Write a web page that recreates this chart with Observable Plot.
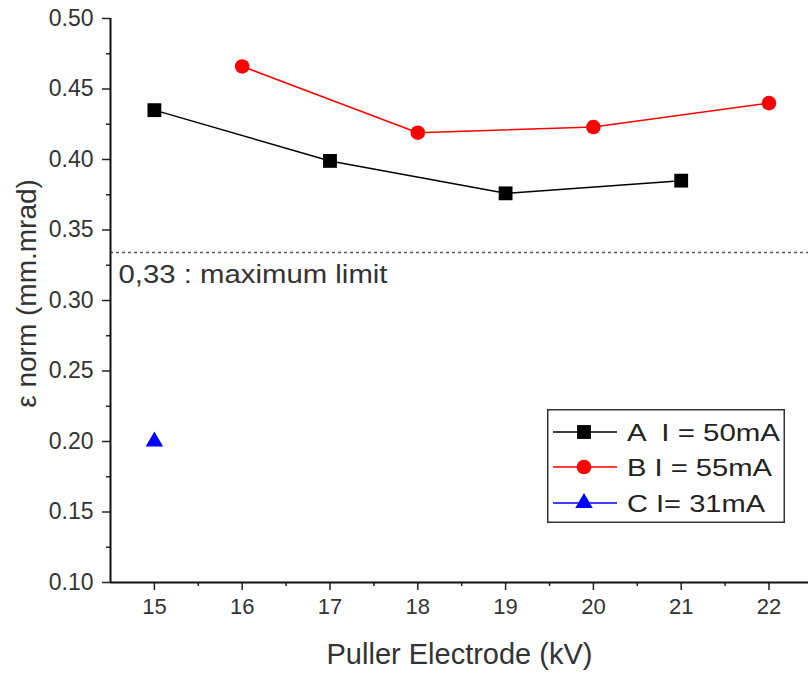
<!DOCTYPE html>
<html><head><meta charset="utf-8">
<script src="https://cdn.jsdelivr.net/npm/d3@7"></script>
<script src="https://cdn.jsdelivr.net/npm/@observablehq/plot@0.6"></script>
<style>
body{margin:0;background:#fff;}
#wrap{position:relative;width:808px;height:673px;font-family:"Liberation Sans",Arial,sans-serif;}
#legend{position:absolute;left:547px;top:409px;}
</style></head><body><div id="wrap"></div>
<script>
// ---- data ----
const seriesNames = ["A  I = 50mA", "B I = 55mA", "C I= 31mA"];
const seriesColors = ["#000000", "#ff0000", "#0000ff"];
const xA = [15, 17, 19, 21];
const yA = [0.435, 0.399, 0.376, 0.385];
const xB = [16, 18, 20, 22];
const yB = [0.466, 0.419, 0.423, 0.440];
const xC = [15];
const yC = [0.200];
const limitValue = 0.334;
const limitLabel = "0,33 : maximum limit";
const xTicks = [15, 16, 17, 18, 19, 20, 21, 22];
const xMinorTicks = [15.5, 16.5, 17.5, 18.5, 19.5, 20.5, 21.5];
const yTicks = [0.10, 0.15, 0.20, 0.25, 0.30, 0.35, 0.40, 0.45, 0.50];
const yMinorTicks = [0.125, 0.175, 0.225, 0.275, 0.325, 0.375, 0.425, 0.475];
const xLabel = "Puller Electrode (kV)";
const yLabel = "ε norm (mm.mrad)";

const A = xA.map((x, i) => ({x, y: yA[i]}));
const B = xB.map((x, i) => ({x, y: yB[i]}));
const C = xC.map((x, i) => ({x, y: yC[i]}));
const xMin = 14.5, xMax = 22.45, yMin = 0.10, yMax = 0.50;

const font = '"Liberation Sans", Arial, sans-serif';
const chart = Plot.plot({
  width: 808, height: 673,
  marginLeft: 110, marginRight: 0, marginTop: 18, marginBottom: 91,
  x: {domain: [xMin, xMax]},
  y: {domain: [yMin, yMax]},
  style: {fontFamily: font, fontSize: "22px", color: "#333", background: "#fff", overflow: "visible"},
  marks: [
    Plot.ruleY([limitValue], {stroke: "#555", strokeWidth: 1.5, strokeDasharray: "3,3"}),
    Plot.text([limitValue], {y: d => d, text: () => limitLabel, frameAnchor: "left", dx: 8, dy: 22, textAnchor: "start", fontSize: 26, fill: "#333"}),
    Plot.line(A, {x: "x", y: "y", stroke: seriesColors[0], strokeWidth: 1.5}),
    Plot.line(B, {x: "x", y: "y", stroke: seriesColors[1], strokeWidth: 1.5}),
    Plot.dot(A, {x: "x", y: "y", symbol: "square", r: 7.8, fill: seriesColors[0], stroke: "none"}),
    Plot.dot(B, {x: "x", y: "y", symbol: "circle", r: 7.3, fill: seriesColors[1], stroke: "none"}),
    Plot.dot(C, {x: "x", y: "y", symbol: "triangle", r: 6.5, fill: seriesColors[2], stroke: "none"}),
    Plot.axisX(xTicks, {anchor: "bottom", tickSize: 8, tickPadding: 8, fontSize: 22, fill: "#333", stroke: "#222", strokeWidth: 1.5, label: null, tickFormat: d => String(d)}),
    Plot.axisX(xMinorTicks, {anchor: "bottom", tickSize: 4, text: null, stroke: "#222", strokeWidth: 1.5, label: null}),
    Plot.axisY(yTicks, {anchor: "left", tickSize: 8, tickPadding: 9, fontSize: 23, fill: "#333", stroke: "#222", strokeWidth: 1.5, label: null, tickFormat: d3.format(".2f")}),
    Plot.axisY(yMinorTicks, {anchor: "left", tickSize: 4, text: null, stroke: "#222", strokeWidth: 1.5, label: null}),
    Plot.ruleX([xMin], {stroke: "#111", strokeWidth: 2}),
    Plot.ruleY([yMin], {stroke: "#111", strokeWidth: 2}),
    Plot.text([xLabel], {text: d => d, frameAnchor: "bottom", textAnchor: "middle", dy: 72, fontSize: 29, fill: "#333", lineAnchor: "middle"}),
    Plot.text([yLabel], {text: d => d, frameAnchor: "left", textAnchor: "middle", dx: -83, dy: -7, rotate: -90, fontSize: 28, fill: "#333", lineAnchor: "middle"})
  ]
});
d3.select(chart).selectAll("text").filter(function() { return this.textContent === limitLabel; })
  .attr("textLength", 269).attr("lengthAdjust", "spacingAndGlyphs");
const wrap = document.getElementById("wrap");
wrap.appendChild(chart);

// ---- legend ----
const lw = 238, lh = 114;
const leg = d3.select(wrap).append("svg").attr("id", "legend").attr("width", lw).attr("height", lh);
leg.append("rect").attr("x", 0.75).attr("y", 0.75).attr("width", lw - 1.5).attr("height", lh - 1.5)
  .attr("fill", "#fff").attr("stroke", "#333").attr("stroke-width", 1.5);
const rowY = [23, 58, 94];
const textLens = [153, 145, 138];
const symbols = [d3.symbolSquare, d3.symbolCircle, d3.symbolTriangle];
const symR = [7.8, 7.3, 6.5];
seriesNames.forEach((name, i) => {
  const g = leg.append("g").attr("transform", `translate(0,${rowY[i]})`);
  g.append("line").attr("x1", 6).attr("x2", 70).attr("y1", 0).attr("y2", 0)
    .attr("stroke", seriesColors[i]).attr("stroke-width", 1.5);
  g.append("path").attr("transform", "translate(37,0)")
    .attr("d", d3.symbol(symbols[i], symR[i] * symR[i] * Math.PI)()).attr("fill", seriesColors[i]);
  g.append("text").attr("x", 80).attr("y", 8.5).attr("font-family", font).attr("font-size", 23)
    .attr("fill", "#222").style("white-space", "pre")
    .attr("textLength", textLens[i]).attr("lengthAdjust", "spacingAndGlyphs").text(name);
});
</script>
</body></html>
